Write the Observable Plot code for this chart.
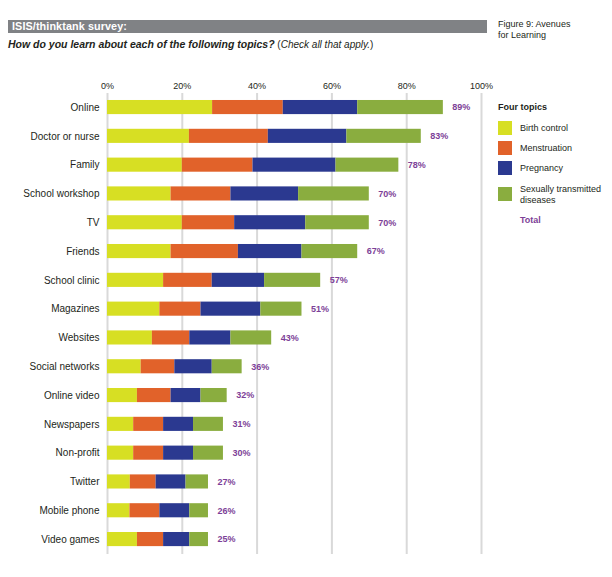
<!DOCTYPE html>
<html>
<head>
<meta charset="utf-8">
<script src="https://cdn.jsdelivr.net/npm/d3@7"></script>
<script src="https://cdn.jsdelivr.net/npm/@observablehq/plot@0.6"></script>
<style>
  body { margin: 0; background: #fff; }
  #wrap { position: relative; width: 612px; height: 577px; font-family: "Liberation Sans", Arial, Helvetica, sans-serif; color: #231f20; }
  #wrap svg { position: absolute; left: 0; top: 0; }
  .abs { position: absolute; white-space: nowrap; }
</style>
</head>
<body>
<div id="wrap"></div>
<script>
const rows = ["Online","Doctor or nurse","Family","School workshop","TV","Friends","School clinic","Magazines","Websites","Social networks","Online video","Newspapers","Non-profit","Twitter","Mobile phone","Video games"];
const topics = ["Birth control","Menstruation","Pregnancy","Sexually transmitted diseases"];
const colors = ["#d7df23","#e1622a","#2b3990","#8aad3f"];
const birthControl = [28.1,21.9,20.0,17.0,20.0,17.0,15.0,14.0,12.0,9.0,8.0,7.0,7.0,6.1,6.0,8.0];
const menstruation = [18.9,21.1,18.9,16.0,14.0,18.0,13.0,11.0,10.0,9.0,9.0,8.0,8.0,6.9,8.0,7.0];
const pregnancy    = [19.9,21.0,22.2,18.1,19.0,17.0,14.0,16.0,11.0,10.0,8.0,8.0,8.0,8.0,8.0,7.0];
const std          = [22.9,19.9,16.8,18.9,17.0,14.9,15.0,11.0,10.9,8.0,7.0,8.0,8.0,6.0,5.0,5.0];
const totals = [89,83,78,70,70,67,57,51,43,36,32,31,30,27,26,25];
const xTicks = [0,20,40,60,80,100];

const series = [birthControl, menstruation, pregnancy, std];
const data = [];
rows.forEach((r, i) => topics.forEach((t, j) => data.push({row: r, topic: t, value: series[j][i]})));
const totalData = rows.map((r, i) => ({row: r, end: series.reduce((s, a) => s + a[i], 0), total: totals[i]}));

const chart = Plot.plot({
  width: 612,
  height: 577,
  marginLeft: 107,
  marginRight: 131,
  marginTop: 85.3,
  marginBottom: 16.2,
  style: {fontFamily: '"Liberation Sans", Arial, Helvetica, sans-serif', background: "transparent"},
  x: {domain: [0, 100]},
  y: {domain: rows, padding: 0.51, round: false},
  color: {domain: topics, range: colors},
  marks: [
    Plot.ruleX(xTicks, {stroke: "#d9d9d9", strokeWidth: 2, insetTop: 7.7, insetBottom: 6.8}),
    Plot.axisX({anchor: "top", ticks: xTicks, tickSize: 0, tickPadding: -2.7, tickFormat: d => d + "%", label: null, fontSize: 9, fill: "#231f20"}),
    Plot.axisY({tickSize: 0, tickPadding: 8, label: null, fontSize: 10, fill: "#231f20"}),
    Plot.barX(data, {x: "value", y: "row", fill: "topic", order: topics}),
    Plot.text(totalData, {x: "end", y: "row", text: d => d.total + "%", dx: 9, textAnchor: "start", fill: "#7d3f98", fontWeight: "bold", fontSize: 9})
  ]
});

const wrap = document.getElementById("wrap");
wrap.appendChild(chart);

function add(html, style) {
  const d = document.createElement("div");
  d.className = "abs";
  d.innerHTML = html;
  Object.assign(d.style, style);
  wrap.appendChild(d);
  return d;
}

add("ISIS/thinktank survey:", {left: "8px", top: "20px", width: "475px", height: "13px", background: "#808285", color: "#fff", fontWeight: "bold", fontSize: "10.8px", lineHeight: "13px", paddingLeft: "4px", letterSpacing: "0.1px"});
add('<b><i>How do you learn about each of the following topics?</i></b><span style="font-size:10px"> (<i>Check all that apply.</i>)</span>', {left: "8px", top: "37px", fontSize: "10.5px", lineHeight: "14px"});
add("Figure 9: Avenues<br>for Learning", {left: "498px", top: "19px", fontSize: "9px", lineHeight: "11px", color: "#231f20"});

// legend
add("Four topics", {left: "498px", top: "101px", fontSize: "9px", fontWeight: "bold", lineHeight: "12px"});
const swTops = [121, 141, 161, 187];
topics.forEach((t, i) => {
  add("", {left: "498px", top: swTops[i] + "px", width: "14px", height: "14px", background: colors[i]});
});
add("Birth control", {left: "520px", top: "122px", fontSize: "9px", lineHeight: "12px"});
add("Menstruation", {left: "520px", top: "142px", fontSize: "9px", lineHeight: "12px"});
add("Pregnancy", {left: "520px", top: "162px", fontSize: "9px", lineHeight: "12px"});
add("Sexually transmitted<br>diseases", {left: "520px", top: "184px", fontSize: "9px", lineHeight: "11px"});
add("Total", {left: "520px", top: "214px", fontSize: "9px", lineHeight: "12px", fontWeight: "bold", color: "#7d3f98"});
</script>
</body>
</html>
